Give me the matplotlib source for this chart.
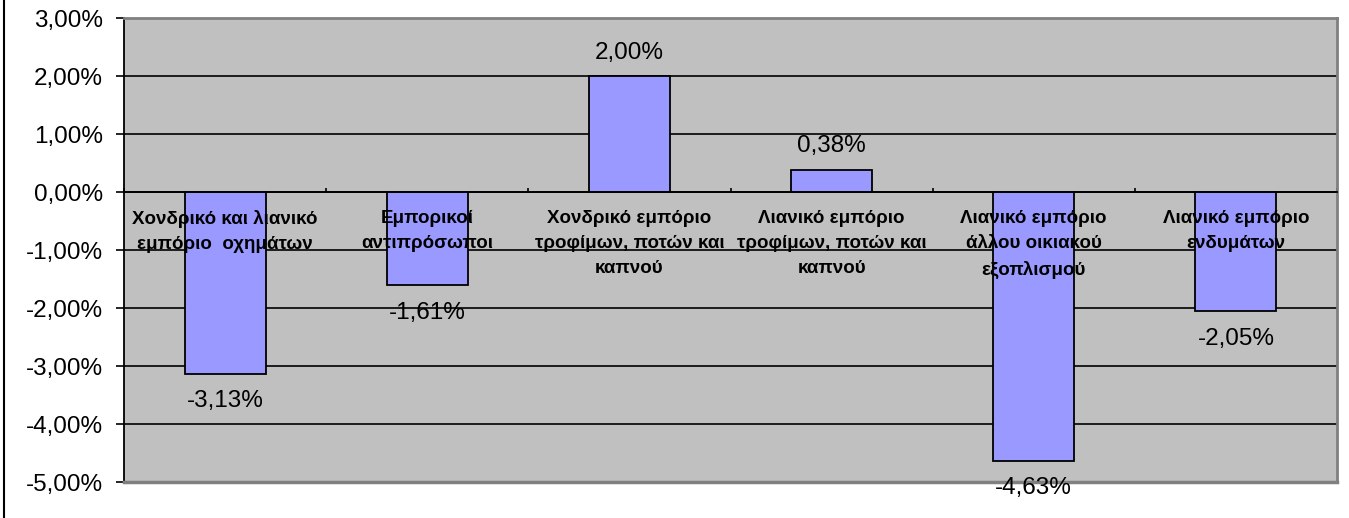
import matplotlib
matplotlib.use("Agg")
import matplotlib.pyplot as plt
from matplotlib.ticker import FuncFormatter, FixedLocator
from matplotlib.lines import Line2D
import numpy as np

plt.rcParams['font.family'] = ['Liberation Sans', 'DejaVu Sans']

categories = [
    "Χονδρικό και λιανικό\nεμπόριο  οχημάτων",
    "Εμπορικοί\nαντιπρόσωποι",
    "Χονδρικό εμπόριο\nτροφίμων, ποτών και\nκαπνού",
    "Λιανικό εμπόριο\nτροφίμων, ποτών και\nκαπνού",
    "Λιανικό εμπόριο\nάλλου οικιακού\nεξοπλισμού",
    "Λιανικό εμπόριο\nενδυμάτων",
]
values = [-3.13, -1.61, 2.00, 0.38, -4.63, -2.05]
y_ticks = [-5, -4, -3, -2, -1, 0, 1, 2, 3]

W, H, DPI = 1349, 518, 100
fig = plt.figure(figsize=(W / DPI, H / DPI), dpi=DPI)
ax = fig.add_axes([124 / W, 1 - 482 / H, (1337 - 124) / W, (482 - 18) / H])
ax.set_facecolor('#C0C0C0')

x = np.arange(len(values))
bars = ax.bar(x, values, width=0.4, color='#9999FF', edgecolor='black', linewidth=1.3, zorder=2)

ax.set_xlim(-0.5, len(values) - 0.5)
ax.set_ylim(min(y_ticks), max(y_ticks))
ax.set_yticks(y_ticks)
ax.yaxis.set_major_formatter(FuncFormatter(lambda v, p: f"{v:.2f}%".replace('.', ',')))
ax.tick_params(axis='y', direction='out', length=6, width=1.2, pad=9, labelsize=17.5, colors='black')

ax.set_axisbelow(True)
ax.yaxis.grid(True, color='black', linewidth=1.2)
ax.xaxis.grid(False)

# category axis at zero
ax.spines['bottom'].set_position(('data', 0))
ax.spines['bottom'].set_color('black')
ax.spines['bottom'].set_linewidth(1.3)
ax.spines['left'].set_color('black')
ax.spines['left'].set_linewidth(1.3)
for s in ['top', 'right']:
    ax.spines[s].set_color('#808080')
    ax.spines[s].set_linewidth(2)
ax.add_line(Line2D([0, 1], [0, 0], transform=ax.transAxes, color='#808080', linewidth=2.5, zorder=5, clip_on=False))

ax.xaxis.set_major_locator(FixedLocator(np.arange(len(values) + 1) - 0.5))
ax.tick_params(axis='x', which='major', direction='in', length=3, width=1.2, labelbottom=False)

for xi, cat in zip(x, categories):
    ax.annotate(cat, (xi, 0), xytext=(0, -13), textcoords='offset points',
                ha='center', va='top', fontsize=13.5, fontweight='bold',
                linespacing=1.62, zorder=6, annotation_clip=False)

for b, v in zip(bars, values):
    lbl = f"{v:.2f}%".replace('.', ',')
    xc = b.get_x() + b.get_width() / 2
    if v >= 0:
        ax.annotate(lbl, (xc, v), xytext=(0, 9), textcoords='offset points',
                    ha='center', va='bottom', fontsize=17.5, zorder=6, annotation_clip=False)
    else:
        ax.annotate(lbl, (xc, v), xytext=(0, -12), textcoords='offset points',
                    ha='center', va='top', fontsize=17.5, zorder=6, annotation_clip=False)

fig.add_artist(Line2D([3.5 / W, 3.5 / W], [0, 1], transform=fig.transFigure, color='black', linewidth=1.5))

fig.savefig('out.png', dpi=DPI)
